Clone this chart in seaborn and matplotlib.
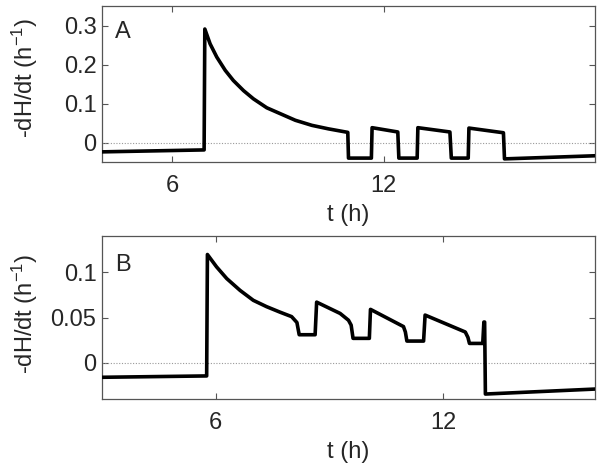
import matplotlib
matplotlib.use("Agg")
import matplotlib.pyplot as plt
import seaborn as sns
import pandas as pd

# Panel A data (t in hours, -dH/dt in 1/h)
t_A = [4.0, 6.90, 6.92, 7.07, 7.26, 7.50, 7.73, 8.02, 8.30, 8.68, 9.06, 9.49, 9.96, 10.43, 10.98,
       11.0, 11.65, 11.67, 12.40, 12.43, 12.95, 12.97, 13.88, 13.92, 14.40, 14.42, 15.40,
       15.43, 18.0]
h_A = [-0.024, -0.019, 0.291, 0.253, 0.219, 0.185, 0.159, 0.133, 0.112, 0.089, 0.074, 0.057, 0.044, 0.035, 0.026,
       -0.040, -0.040, 0.038, 0.027, -0.040, -0.040, 0.038, 0.027, -0.040, -0.040, 0.037, 0.025,
       -0.042, -0.034]

# Panel B data
t_B = [3.0, 5.76, 5.78, 6.02, 6.29, 6.64, 6.99, 7.34, 7.69, 8.00, 8.14, 8.20, 8.62, 8.66,
       9.28, 9.50, 9.57, 9.62, 10.05, 10.08, 10.95, 11.00, 11.04, 11.48, 11.52, 12.58,
       12.65, 12.69, 13.04, 13.07, 13.09, 13.11, 16.0]
h_B = [-0.016, -0.0145, 0.1196, 0.106, 0.093, 0.080, 0.069, 0.062, 0.056, 0.051, 0.0445, 0.031, 0.031, 0.067,
       0.0545, 0.047, 0.0416, 0.027, 0.027, 0.059, 0.040, 0.034, 0.024, 0.024, 0.0527, 0.034,
       0.028, 0.0214, 0.0214, 0.045, 0.045, -0.0345, -0.029]

panels = [
    dict(t=t_A, h=h_A, xlim=(4, 18), ylim=(-0.05, 0.35), yticks=[0, 0.1, 0.2, 0.3],
         yticklabels=["0", "0.1", "0.2", "0.3"], label="A", pos=[0.1697, 0.6575, 0.8203, 0.3298],
         ly=0.835, xl=-0.270, yl=0.54),
    dict(t=t_B, h=h_B, xlim=(3, 16), ylim=(-0.04, 0.14), yticks=[0, 0.05, 0.1],
         yticklabels=["0", "0.05", "0.1"], label="B", pos=[0.1697, 0.1564, 0.8203, 0.3446],
         ly=0.825, xl=-0.258, yl=0.52),
]
xticks = [6, 12]

sns.set_style("white")
plt.rcParams['font.family'] = ['Liberation Sans', 'DejaVu Sans']
plt.rcParams['mathtext.fontset'] = 'custom'
plt.rcParams['mathtext.rm'] = 'Liberation Sans'
plt.rcParams['mathtext.it'] = 'Liberation Sans'

fs = 17
fig = plt.figure(figsize=(6.01, 4.73), dpi=100)
textc = '#262626'
spinec = '#555555'
for p in panels:
    ax = fig.add_axes(p["pos"])
    df = pd.DataFrame({"t": p["t"], "h": p["h"]})
    ax.axhline(0, color='#999999', lw=0.8, ls=(0, (1, 1.5)), zorder=1)
    sns.lineplot(data=df, x="t", y="h", sort=False, estimator=None, color='black',
                 lw=2.6, ax=ax, zorder=3)
    ax.set_xlim(*p["xlim"])
    ax.set_ylim(*p["ylim"])
    ax.set_xticks(xticks)
    ax.set_xticklabels([str(v) for v in xticks])
    ax.set_yticks(p["yticks"])
    ax.set_yticklabels(p["yticklabels"])
    ax.tick_params(direction='in', length=4, width=0.8, colors=spinec, labelcolor=textc,
                   labelsize=fs, top=True, right=True, bottom=True, left=True)
    ax.tick_params(axis='x', pad=9)
    ax.tick_params(axis='y', pad=4)
    for s in ax.spines.values():
        s.set_color(spinec)
        s.set_linewidth(0.9)
    ax.set_xlabel("t (h)", fontsize=fs, color=textc)
    ax.set_ylabel("-dH/dt (h$^{-1}$)", fontsize=fs, color=textc)
    ax.xaxis.set_label_coords(0.5, p["xl"])
    ax.yaxis.set_label_coords(-0.126, p["yl"])
    ax.text(0.026, p["ly"], p["label"], transform=ax.transAxes, fontsize=fs,
            color=textc, va='center', ha='left')

fig.savefig("out.png", dpi=100)
